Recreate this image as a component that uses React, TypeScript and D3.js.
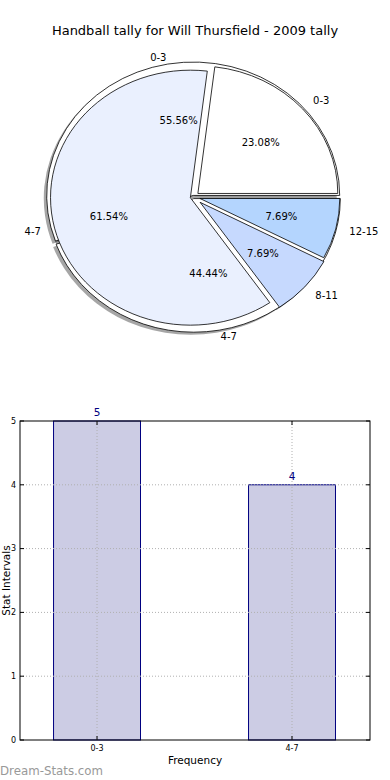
import React from "react";
import { pie, arc, scaleLinear, rgb } from "d3";

const tallyBins = ["0-3", "4-7", "8-11", "12-15"];
const tallyCounts = [3, 8, 1, 1];
const freqBins = ["0-3", "4-7"];
const freqCounts = [5, 4];
const yTicks = [0, 1, 2, 3, 4, 5];

const tallyColors = ["#ffffff", "#eaf0fe", "#c6d9fe", "#b4d5fe"];
const freqColors = ["#ffffff", "#ffffff"];

const W = 390;
const H = 780;
const FONT = "DejaVu Sans, sans-serif";

// pie geometry (axes are not square, so the pie is an ellipse)
const cx = 193.5;
const cy = 197;
const rx = 146.5;
const ry = 133.5;

const unitArc = arc<any>().innerRadius(0).outerRadius(1);

type Wedge = {
  label: string;
  color: string;
  t1: number;
  t2: number;
  tm: number;
  frac: number;
  ox: number;
  oy: number;
  k: number;
};

function buildWedges(labels: string[], values: number[], colors: string[], explode: number[], k: number): Wedge[] {
  const total = values.reduce((a, b) => a + b, 0);
  const arcs = pie<number>().sort(null)(values);
  return arcs.map((a, i) => {
    // d3 cumulative angles reused as matplotlib-style angles (ccw from +x)
    const tm = (a.startAngle + a.endAngle) / 2;
    return {
      label: labels[i],
      color: colors[i],
      t1: a.startAngle,
      t2: a.endAngle,
      tm,
      frac: values[i] / total,
      ox: explode[i] * rx * Math.cos(tm),
      oy: -explode[i] * ry * Math.sin(tm),
      k,
    };
  });
}

const under = buildWedges(freqBins, freqCounts, freqColors, [0.012, 0.012], 1);
const over = buildWedges(tallyBins, tallyCounts, tallyColors, [0.04, 0.022, 0.06, 0.045], 0.955);

function wedgePath(w: Wedge) {
  return unitArc({ startAngle: Math.PI / 2 - w.t2, endAngle: Math.PI / 2 - w.t1 } as any) as string;
}

function shadowColor(c: string) {
  const r = rgb(c);
  return rgb(r.r * 0.3, r.g * 0.3, r.b * 0.3).toString();
}

function PieLayer({ wedges, shadow }: { wedges: Wedge[]; shadow?: boolean }) {
  return (
    <g>
      {wedges.map((w, i) => (
        <path
          key={i}
          d={wedgePath(w)}
          transform={
            shadow
              ? `translate(${cx + w.ox - 0.02 * rx},${cy + w.oy + 0.02 * ry}) scale(${rx * w.k},${ry * w.k})`
              : `translate(${cx + w.ox},${cy + w.oy}) scale(${rx * w.k},${ry * w.k})`
          }
          fill={shadow ? shadowColor(w.color) : w.color}
          fillOpacity={shadow ? 0.5 : 1}
          stroke={shadow ? "none" : "#000"}
          strokeWidth={0.8}
          vectorEffect="non-scaling-stroke"
        />
      ))}
    </g>
  );
}

function PieText({ wedges }: { wedges: Wedge[] }) {
  const kt = 0.955;
  return (
    <g fontFamily={FONT} fontSize={10} fill="#000">
      {wedges.map((w, i) => {
        const c = Math.cos(w.tm);
        const s = Math.sin(w.tm);
        const lx = cx + w.ox + 1.1 * kt * rx * c;
        const ly = cy + w.oy - 1.1 * kt * ry * s;
        const px = cx + w.ox + 0.6 * kt * rx * c;
        const py = cy + w.oy - 0.6 * kt * ry * s;
        return (
          <g key={i}>
            <text x={lx} y={ly} dy="0.35em" textAnchor={c >= 0 ? "start" : "end"}>
              {w.label}
            </text>
            <text x={px} y={py} dy="0.35em" textAnchor="middle">
              {(w.frac * 100).toFixed(2)}%
            </text>
          </g>
        );
      })}
    </g>
  );
}

// bar chart axes
const left = 20;
const right = 370;
const top = 421;
const bottom = 740;
const x = scaleLinear().domain([-0.395, 1.4]).range([left, right]);
const y = scaleLinear().domain([0, 5]).range([bottom, top]);
const barW = 0.446;

function BarChart() {
  const gridColor = "#b0b0b0";
  return (
    <g fontFamily={FONT}>
      {freqCounts.map((v, i) => (
        <rect
          key={i}
          x={x(i - barW / 2)}
          y={y(v)}
          width={x(barW) - x(0)}
          height={y(0) - y(v)}
          fill="#cccce4"
          stroke="#000080"
          strokeWidth={1}
        />
      ))}
      {yTicks.slice(1, -1).map((t) => (
        <line key={t} x1={left} x2={right} y1={y(t)} y2={y(t)} stroke={gridColor} strokeDasharray="1,2" />
      ))}
      {freqBins.map((b, i) => (
        <line key={b} x1={x(i)} x2={x(i)} y1={top} y2={bottom} stroke={gridColor} strokeDasharray="1,2" />
      ))}
      <rect x={left} y={top} width={right - left} height={bottom - top} fill="none" stroke="#000" strokeWidth={1} />
      {yTicks.map((t) => (
        <g key={t}>
          <line x1={left} x2={left + 4} y1={y(t)} y2={y(t)} stroke="#000" />
          <line x1={right - 4} x2={right} y1={y(t)} y2={y(t)} stroke="#000" />
          <text x={left - 4} y={y(t)} dy="0.35em" textAnchor="end" fontSize={8}>
            {t}
          </text>
        </g>
      ))}
      {freqBins.map((b, i) => (
        <g key={b}>
          <line x1={x(i)} x2={x(i)} y1={bottom} y2={bottom - 4} stroke="#000" />
          <line x1={x(i)} x2={x(i)} y1={top} y2={top + 4} stroke="#000" />
          <text x={x(i)} y={bottom + 11} textAnchor="middle" fontSize={8}>
            {b}
          </text>
        </g>
      ))}
      {freqCounts.map((v, i) => (
        <text key={i} x={x(i)} y={y(v) - 5} textAnchor="middle" fontSize={10.5} fill="#000080">
          {v}
        </text>
      ))}
      <text x={(left + right) / 2} y={764} textAnchor="middle" fontSize={10.5}>
        Frequency
      </text>
      <text transform={`translate(9.5,${(top + bottom) / 2}) rotate(-90)`} textAnchor="middle" fontSize={10.5}>
        Stat Intervals
      </text>
      <text x={0} y={775} fontSize={11.8} fill="#999999">
        Dream-Stats.com
      </text>
    </g>
  );
}

export default function App() {
  return (
    <svg width={W} height={H} style={{ position: "absolute", left: 0, top: 0, background: "#fff" }}>
      <rect width={W} height={H} fill="#fff" />
      <text x={195} y={30} dy="0.35em" textAnchor="middle" fontFamily={FONT} fontSize={13}>
        Handball tally for Will Thursfield - 2009 tally
      </text>
      <PieLayer wedges={[...over, ...under]} shadow />
      <PieLayer wedges={under} />
      <PieLayer wedges={over} />
      <PieText wedges={under} />
      <PieText wedges={over} />
      <BarChart />
    </svg>
  );
}
